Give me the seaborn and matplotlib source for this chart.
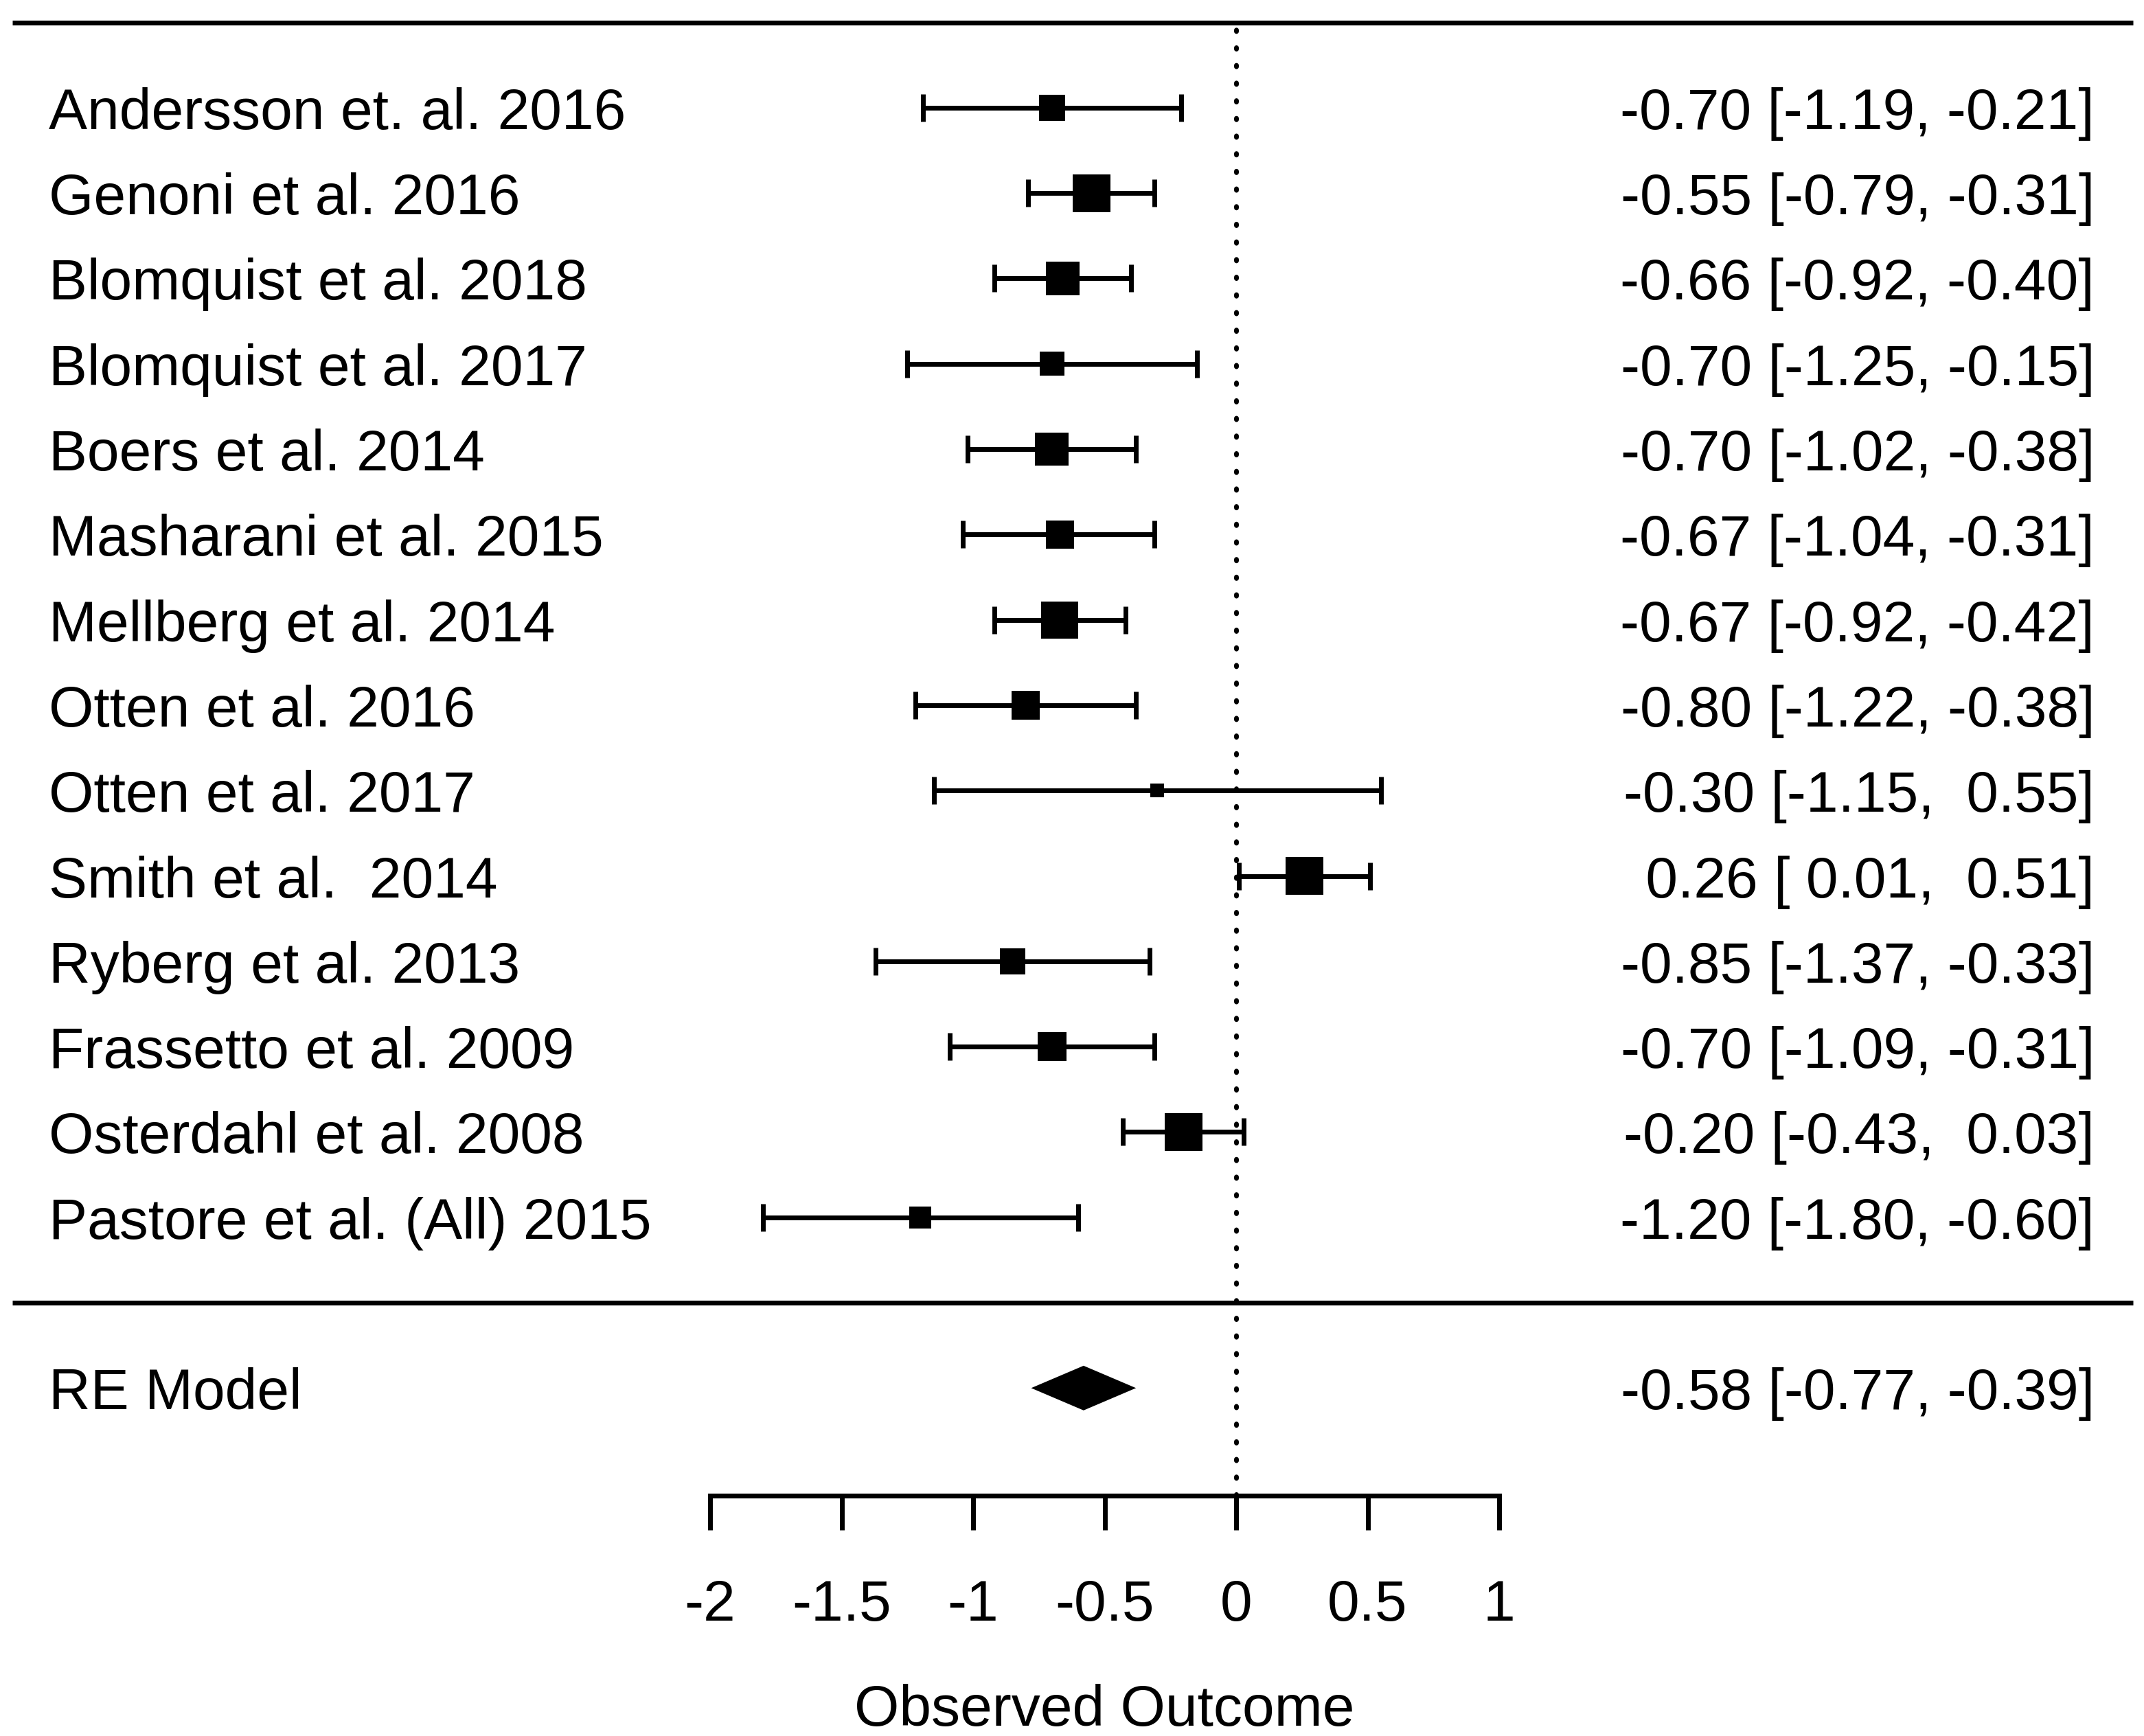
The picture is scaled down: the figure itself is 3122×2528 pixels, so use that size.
import numpy as np
import pandas as pd
import matplotlib
matplotlib.use("Agg")
import matplotlib.pyplot as plt
import seaborn as sns

# ---------------- data ----------------
studies = [
    "Andersson et. al. 2016", "Genoni et al. 2016", "Blomquist et al. 2018",
    "Blomquist et al. 2017", "Boers et al. 2014", "Masharani et al. 2015",
    "Mellberg et al. 2014", "Otten et al. 2016", "Otten et al. 2017",
    "Smith et al.  2014", "Ryberg et al. 2013", "Frassetto et al. 2009",
    "Osterdahl et al. 2008", "Pastore et al. (All) 2015",
]
estimates = [-0.70, -0.55, -0.66, -0.70, -0.70, -0.67, -0.67, -0.80, -0.30, 0.26, -0.85, -0.70, -0.20, -1.20]
ci_lower = [-1.19, -0.79, -0.92, -1.25, -1.02, -1.04, -0.92, -1.22, -1.15, 0.01, -1.37, -1.09, -0.43, -1.80]
ci_upper = [-0.21, -0.31, -0.40, -0.15, -0.38, -0.31, -0.42, -0.38, 0.55, 0.51, -0.33, -0.31, 0.03, -0.60]
# relative study weights (box size relative to the largest box)
rel_weights = [0.70, 1.00, 0.89, 0.64, 0.89, 0.75, 0.98, 0.75, 0.36, 1.00, 0.68, 0.75, 1.00, 0.58]

summary_label = "RE Model"
summary_est = -0.58
summary_lower = -0.77
summary_upper = -0.39

x_ticks = [-2, -1.5, -1, -0.5, 0, 0.5, 1]
x_tick_labels = ["-2", "-1.5", "-1", "-0.5", "0", "0.5", "1"]
x_label = "Observed Outcome"

# ---------------- style ----------------
sns.set_theme(style="white")
plt.rcParams["font.family"] = ["Liberation Sans", "DejaVu Sans"]

W, H, DPI = 3122, 2528, 100
FS = 60.5          # font size in pt
LW = 5.0           # line width in pt
MAX_BOX_PX = 55.0  # side of the largest box, px

X0_PX = 1800.0     # pixel column of x = 0
PX_PER_UNIT = 383.0
ROW_PX = 124.3
SEP_PX = 1897.0    # pixel row of y = 0 (separator line)
AXIS_PX = 2178.0   # pixel row of the x axis line


def px2x(p):
    return (p - X0_PX) / PX_PER_UNIT


fig = plt.figure(figsize=(W / DPI, H / DPI), dpi=DPI)
fig.patch.set_facecolor("white")
ax = fig.add_axes([0, (H - AXIS_PX) / H, 1, AXIS_PX / H])
ax.set_facecolor("white")

n = len(studies)
rows = np.arange(n, 0, -1).astype(float)
est = np.array(estimates)
lo = np.array(ci_lower)
hi = np.array(ci_upper)

df = pd.DataFrame({"est": est, "row": rows,
                   "size": (np.array(rel_weights) * MAX_BOX_PX * 72.0 / DPI) ** 2})

# confidence intervals with end caps
ax.errorbar(est, rows, xerr=[est - lo, hi - est], fmt="none", ecolor="black",
            elinewidth=LW, capsize=14.4, capthick=LW, zorder=2)

# study boxes
sns.scatterplot(data=df, x="est", y="row", marker="s", s=df["size"].values,
                color="black", linewidth=0, ax=ax, zorder=3, legend=False)

# summary diamond
half_h = 31.0 / ROW_PX
ax.fill([summary_lower, summary_est, summary_upper, summary_est],
        [-1, -1 + half_h, -1, -1 - half_h], color="black", lw=2, zorder=3)

# horizontal rules
x_rule_l, x_rule_r = px2x(18), px2x(3106)
ax.hlines([n + 1, 0], x_rule_l, x_rule_r, colors="black", lw=LW, zorder=1)

# reference line at 0
y_bottom = (SEP_PX - AXIS_PX) / ROW_PX
ax.vlines(0, y_bottom, n + 1, colors="black", lw=5.0,
          linestyles=[(0, (0.3, 3.4))], capstyle="round", zorder=1)

# labels
cap_half = 31.0 / ROW_PX
x_left = px2x(71)
x_right = px2x(3050)


def fmt(v):
    return f"{v:5.2f}"


for r, name, e, l, h in zip(rows, studies, est, lo, hi):
    ax.text(x_left, r - cap_half, name, ha="left", va="baseline", fontsize=FS, color="black")
    ax.text(x_right, r - cap_half, f"{fmt(e)} [{fmt(l)}, {fmt(h)}]", ha="right",
            va="baseline", fontsize=FS, color="black")

ax.text(x_left, -1 - cap_half, summary_label, ha="left", va="baseline", fontsize=FS, color="black")
ax.text(x_right, -1 - cap_half,
        f"{fmt(summary_est)} [{fmt(summary_lower)}, {fmt(summary_upper)}]",
        ha="right", va="baseline", fontsize=FS, color="black")

# axes
ax.set_xlim(px2x(0), px2x(W))
ax.set_ylim(y_bottom, SEP_PX / ROW_PX)
for s in ["left", "right", "top"]:
    ax.spines[s].set_visible(False)
ax.spines["bottom"].set_bounds(x_ticks[0], x_ticks[-1])
ax.spines["bottom"].set_linewidth(LW)
ax.spines["bottom"].set_color("black")
ax.set_xticks(x_ticks, x_tick_labels)
ax.tick_params(axis="x", direction="out", length=36, width=LW, pad=51,
               labelsize=FS, colors="black", bottom=True)
ax.tick_params(axis="y", left=False, labelleft=False)
ax.set_ylabel("")
ax.set_xlabel(x_label, fontsize=FS, color="black")
ax.xaxis.set_label_coords(1608 / W, ((H - 2452) / H - (H - AXIS_PX) / H) / (AXIS_PX / H))
ax.grid(False)

fig.savefig("out.png", dpi=DPI, facecolor="white")
